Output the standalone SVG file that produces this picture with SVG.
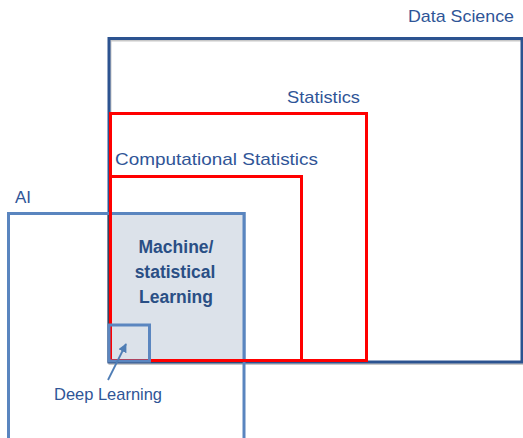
<svg xmlns="http://www.w3.org/2000/svg" width="523" height="438" viewBox="0 0 523 438">
<style>
.lbl{font-family:"Liberation Sans",Arial,sans-serif;font-size:17px;fill:#2F5597}
.ml{font-family:"Liberation Sans",Arial,sans-serif;font-size:17.5px;font-weight:bold;fill:#2A4F85;text-anchor:middle}
.red{fill:none;stroke:#FF0000;stroke-width:3}
.ai{fill:none;stroke:#5A85BF;stroke-width:3}
</style>
<defs>
<marker id="ah" viewBox="0 0 10 10" refX="9" refY="5" markerWidth="5" markerHeight="5" orient="auto">
<path d="M0,0 L10,5 L0,10 z" fill="#4F7DB5"/>
</marker>
</defs>
<rect width="523" height="438" fill="#ffffff"/>
<g id="data-science">
<rect x="109" y="38.5" width="413" height="323.5" fill="none" stroke="#C8C8C8" stroke-width="3" transform="translate(1,1.5)"/>
<rect x="109" y="38.5" width="413" height="323.5" fill="none" stroke="#2C5390" stroke-width="3"/>
<text class="lbl" x="408" y="22" textLength="106" lengthAdjust="spacingAndGlyphs">Data Science</text>
</g>
<g id="ai">
<rect x="8.5" y="213.5" width="235.5" height="240" class="ai"/>
<text class="lbl" x="15" y="203">AI</text>
</g>
<g id="machine-learning">
<rect x="107.5" y="214.5" width="135.5" height="148" fill="#3A3A3A" opacity="0.55"/>
<rect x="109.5" y="213" width="134.5" height="148" fill="#DCE2EA"/>
<path d="M8.5,213.5 H244 V361" class="ai"/>
<text class="ml" x="176" y="253">Machine/</text>
<text class="ml" x="175" y="278">statistical</text>
<text class="ml" x="176" y="303">Learning</text>
</g>
<g id="statistics">
<rect x="110.5" y="113.5" width="256" height="247" class="red"/>
<text class="lbl" x="287" y="103" textLength="73" lengthAdjust="spacingAndGlyphs">Statistics</text>
</g>
<g id="computational-statistics">
<rect x="110.5" y="176.5" width="191" height="184" class="red"/>
<text class="lbl" x="115" y="165" textLength="203" lengthAdjust="spacingAndGlyphs">Computational Statistics</text>
</g>
<g id="deep-learning">
<rect x="109" y="325" width="40.5" height="36" fill="none" stroke="#5B86C0" stroke-width="3"/>
<text class="lbl" x="54" y="400" font-size="16" textLength="108" lengthAdjust="spacingAndGlyphs">Deep Learning</text>
</g>
<g id="connectors">
<line x1="108" y1="380" x2="126" y2="344" stroke="#4F7DB5" stroke-width="1.8" marker-end="url(#ah)"/>
</g>
</svg>
